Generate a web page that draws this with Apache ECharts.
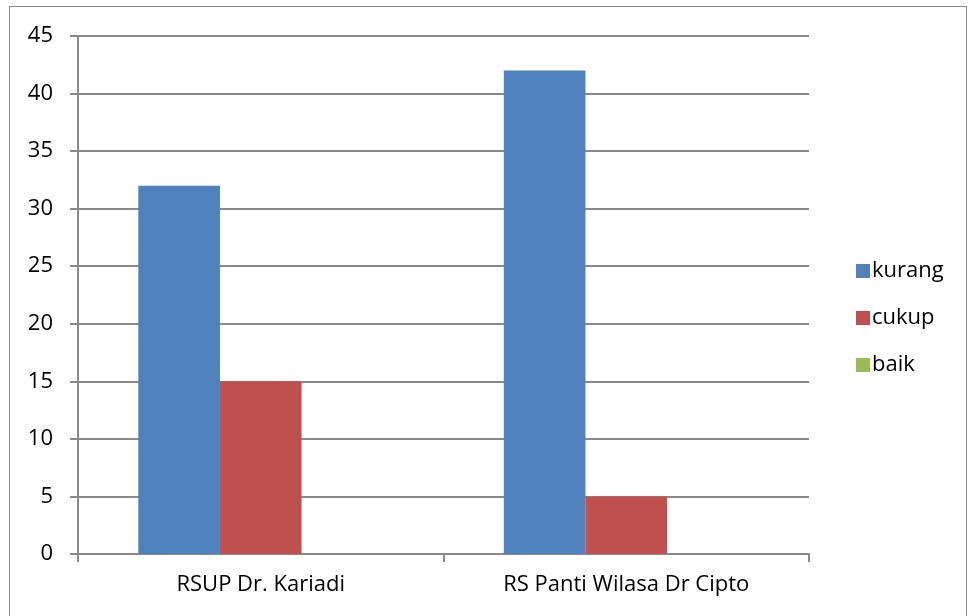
<!DOCTYPE html>
<html>
<head>
<meta charset="UTF-8">
<title>Chart</title>
<script src="https://cdn.jsdelivr.net/npm/echarts@6/dist/echarts.min.js"></script>
<style>
    * { margin: 0; padding: 0; box-sizing: border-box; }
    body { background: #fff; width: 969px; height: 616px; overflow: hidden; position: relative; }
    .frame {
        position: absolute; left: 9px; top: 6px; width: 958px; height: 620px;
        border: 1px solid #898989;
    }
    #chart { position: absolute; left: 0; top: 0; width: 969px; height: 616px; }
</style>
</head>
<body>
<div class="frame"></div>
<div id="chart"></div>
<script>
    const categories = ['RSUP Dr. Kariadi', 'RS Panti Wilasa Dr Cipto'];
    const kurang = [32, 42];
    const cukup = [15, 5];
    const baik = [0, 0];

    const axisGray = '#898989';
    const font = '"Open Sans", sans-serif';

    const chart = echarts.init(document.getElementById('chart'));
    chart.setOption({
        animation: false,
        textStyle: { fontFamily: font },
        grid: { left: 78, right: 160, top: 36, bottom: 62, containLabel: false },
        legend: {
            orient: 'vertical',
            left: 851,
            top: 255,
            itemWidth: 14,
            itemHeight: 14,
            itemGap: 25,
            icon: 'rect',
            textStyle: { fontSize: 22, color: '#000', fontFamily: font, padding: [0, 0, 0, -3] },
            data: ['kurang', 'cukup', 'baik']
        },
        xAxis: {
            type: 'category',
            data: categories,
            axisLine: { lineStyle: { color: axisGray, width: 2 } },
            axisTick: { show: true, length: 8, lineStyle: { color: axisGray, width: 2 } },
            axisLabel: { color: '#000', fontSize: 22, margin: 20, fontFamily: font },
            splitLine: { show: false }
        },
        yAxis: {
            type: 'value',
            min: 0,
            max: 45,
            interval: 5,
            axisLine: { show: true, lineStyle: { color: axisGray, width: 2 } },
            axisTick: { show: true, length: 8, lineStyle: { color: axisGray, width: 2 } },
            axisLabel: { color: '#000', fontSize: 22, margin: 25, fontFamily: font },
            splitLine: { lineStyle: { color: axisGray, width: 2 } }
        },
        series: [
            { name: 'kurang', type: 'bar', data: kurang, barGap: '0%', barCategoryGap: '33%', itemStyle: { color: '#4F81BD' } },
            { name: 'cukup', type: 'bar', data: cukup, itemStyle: { color: '#C0504D' } },
            { name: 'baik', type: 'bar', data: baik, itemStyle: { color: '#9BBB59' } }
        ]
    });
</script>
</body>
</html>
